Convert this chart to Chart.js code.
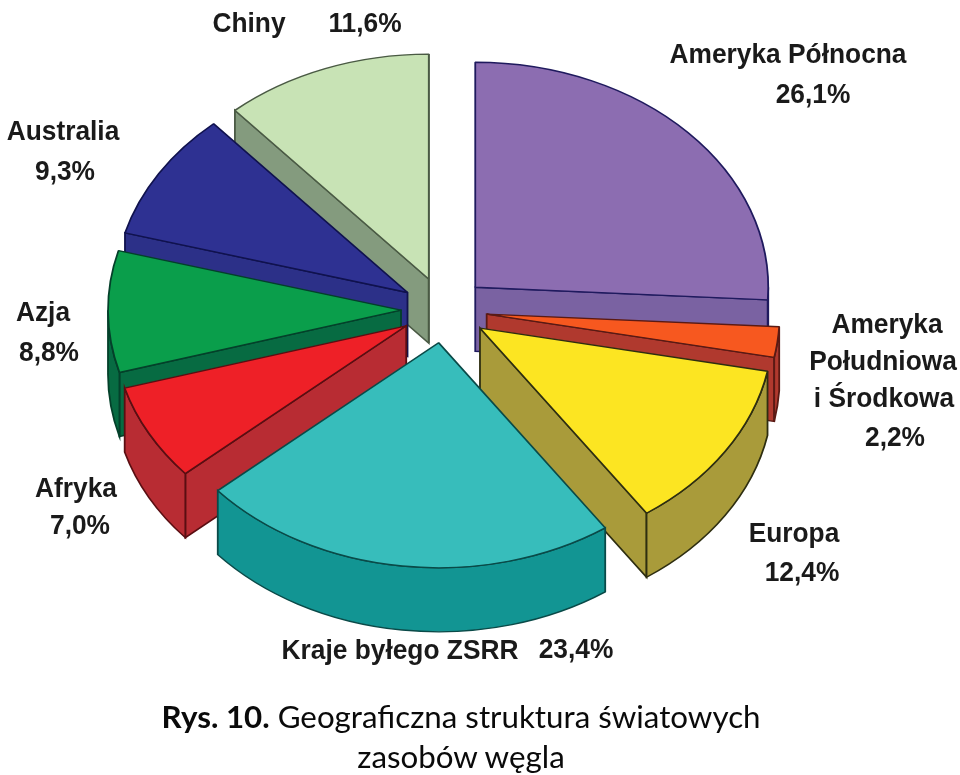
<!DOCTYPE html>
<html lang="pl">
<head>
<meta charset="utf-8">
<title>Geograficzna struktura światowych zasobów węgla</title>
<script src="https://cdn.jsdelivr.net/npm/chart.js@4"></script>
<style>
    html, body { margin: 0; padding: 0; background: #fff; }
    #wrap { position: relative; width: 960px; height: 775px; overflow: hidden; }
    #chart { position: absolute; left: 0; top: 0; }
    .caption {
        position: absolute; left: 0; width: 922px; text-align: center;
        font-family: Lato, sans-serif; font-size: 31.3px; line-height: 40px; color: #0a0a0a;
        white-space: nowrap;
    }
</style>
</head>
<body>
<div id="wrap">
    <canvas id="chart" width="960" height="775"></canvas>
    <div class="caption" style="top: 696px;"><b>Rys. 10.</b> Geograficzna struktura światowych</div>
    <div class="caption" style="top: 736px;">zasobów węgla</div>
</div>
<script>
const categories = ['Ameryka Północna', 'Ameryka Południowa i Środkowa', 'Europa', 'Kraje byłego ZSRR', 'Afryka', 'Azja', 'Australia', 'Chiny'];
const shares = [26.1, 2.2, 12.4, 23.4, 7.0, 8.8, 9.3, 11.6];
const topColors = ['#8C6DB1', '#F7581F', '#FCE522', '#37BDBB', '#EE2027', '#0A9E4B', '#2E3192', '#C8E3B5'];
const wallColors = ['#7A62A2', '#B0392E', '#A99B3A', '#129593', '#B82C33', '#076B42', '#2C3088', '#849B7E'];
const edgeColors = ['#1F1A5E', '#5A1A14', '#2E2E10', '#0A4A48', '#5A0E12', '#04402A', '#10124E', '#4A5A44'];

// label lines per slice, the share is added as last line
const labelLines = [['Ameryka Północna'], ['Ameryka', 'Południowa', 'i Środkowa'], ['Europa'], ['Kraje byłego ZSRR'], ['Afryka'], ['Azja'], ['Australia'], ['Chiny']];
const labelAt = [
    [[788, 63], [813, 103]],
    [[887, 333], [883, 370], [884, 407], [895, 446]],
    [[794, 542], [802, 581]],
    [[400, 659], [576, 658]],
    [[76, 497], [80, 534]],
    [[43, 321], [49, 361]],
    [[63, 140], [65, 180]],
    [[249, 32], [365, 32]]
];

const squash = 0.768;       // tilt of the pie
const pieX = 444, pieY = 310;
const pieRadius = 293;
const explode = 43;
const depth = 64;           // wall height on screen

function formatShare(v) {
    return v.toFixed(1).replace('.', ',') + '%';
}

function fillFace(ctx, path, color, edge) {
    ctx.beginPath();
    path();
    ctx.closePath();
    ctx.fillStyle = color;
    ctx.fill();
    ctx.strokeStyle = edge;
    ctx.lineWidth = 1.8;
    ctx.stroke();
}

function drawWalls(ctx, arc, i) {
    const h = depth / squash;
    const { x, y, startAngle: a, endAngle: b, outerRadius: r } = arc;
    const radial = angle => () => {
        const px = x + Math.cos(angle) * r, py = y + Math.sin(angle) * r;
        ctx.moveTo(x, y);
        ctx.lineTo(px, py);
        ctx.lineTo(px, py + h);
        ctx.lineTo(x, y + h);
    };
    // only faces turned towards the viewer
    if (Math.cos(a) < 0) fillFace(ctx, radial(a), wallColors[i], edgeColors[i]);
    if (Math.cos(b) > 0) fillFace(ctx, radial(b), wallColors[i], edgeColors[i]);

    // rim, the part on the lower half of the pie
    const ranges = [[0, Math.PI], [2 * Math.PI, 3 * Math.PI]];
    ranges.forEach(([lo, hi]) => {
        const from = Math.max(a, lo), to = Math.min(b, hi);
        if (from >= to) return;
        fillFace(ctx, () => {
            ctx.arc(x, y, r, from, to);
            ctx.lineTo(x + Math.cos(to) * r, y + Math.sin(to) * r + h);
            ctx.arc(x, y + h, r, to, from, true);
        }, wallColors[i], edgeColors[i]);
    });
}

const tiltedPie = {
    id: 'tiltedPie',
    beforeDatasetsDraw(chart) {
        const ctx = chart.ctx;
        const arcs = chart.getDatasetMeta(0).data;
        const mid = arc => (arc.startAngle + arc.endAngle) / 2;
        const order = arcs.map((arc, i) => i).sort((p, q) => Math.sin(mid(arcs[p])) - Math.sin(mid(arcs[q])));

        ctx.save();
        ctx.translate(pieX, pieY);
        ctx.scale(1, squash);
        ctx.translate(-arcs[0].x, -arcs[0].y);
        order.forEach(i => {
            const arc = arcs[i];
            ctx.save();
            ctx.translate(Math.cos(mid(arc)) * explode, Math.sin(mid(arc)) * explode);
            drawWalls(ctx, arc, i);
            arc.draw(ctx, chart.chartArea);
            ctx.restore();
        });
        ctx.restore();
        return false;
    },
    afterDraw(chart) {
        const ctx = chart.ctx;
        ctx.save();
        ctx.font = 'bold 28px "Liberation Sans", Arial, sans-serif';
        ctx.fillStyle = '#1a1a1a';
        ctx.textAlign = 'center';
        ctx.textBaseline = 'alphabetic';
        categories.forEach((name, i) => {
            const lines = [...labelLines[i], formatShare(shares[i])];
            lines.forEach((line, j) => {
                const [x, y] = labelAt[i][j];
                ctx.save();
                ctx.translate(x, y);
                ctx.scale(0.94, 1);
                ctx.fillText(line, 0, 0);
                ctx.restore();
            });
        });
        ctx.restore();
    }
};

new Chart(document.getElementById('chart'), {
    type: 'pie',
    data: {
        labels: categories,
        datasets: [{
            data: shares,
            backgroundColor: topColors,
            borderColor: edgeColors,
            borderWidth: 1.8
        }]
    },
    options: {
        responsive: false,
        animation: false,
        radius: pieRadius,
        plugins: {
            legend: { display: false },
            tooltip: { enabled: false }
        }
    },
    plugins: [tiltedPie]
});
</script>
</body>
</html>
